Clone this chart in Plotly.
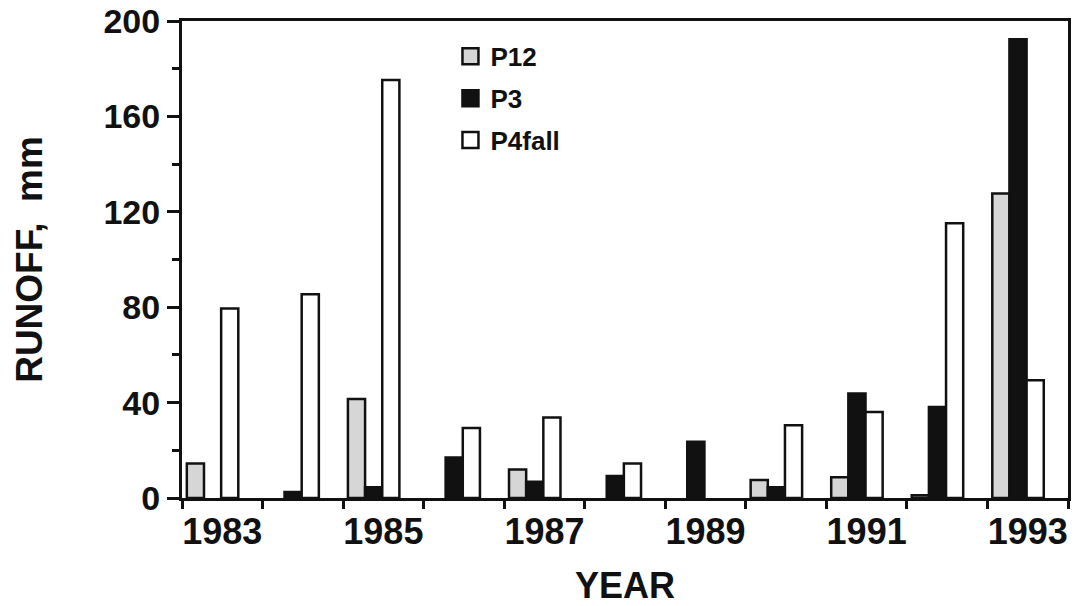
import plotly.graph_objects as go

years = [1983, 1984, 1985, 1986, 1987, 1988, 1989, 1990, 1991, 1992, 1993]
p12 = [14.5, None, 41.5, None, 12.0, None, None, 7.5, 8.7, 1.2, 127.7]
p3 = [None, 2.5, 4.5, 17.0, 6.8, 9.2, 23.6, 4.5, 43.8, 38.2, 192.3]
p4fall = [79.5, 85.4, 175.3, 29.4, 33.8, 14.5, None, 30.5, 36.1, 115.2, 49.4]
year_labels = ["1983", "1985", "1987", "1989", "1991", "1993"]
label_years = [1983, 1985, 1987, 1989, 1991, 1993]
y_ticks = [0, 40, 80, 120, 160, 200]

FONT = "Liberation Sans, Arial, Helvetica, sans-serif"
series = [
    ("P12", p12, "#d6d6d6", -0.44),
    ("P3", p3, "#111111", -0.227),
    ("P4fall", p4fall, "#ffffff", -0.014),
]
BW = 0.213

fig = go.Figure()
for name, vals, col, off in series:
    fig.add_trace(go.Bar(
        x=years, y=vals, name=name, offset=off, width=BW,
        marker=dict(color=col, line=dict(color="#111111", width=2.5)),
        showlegend=False, legendgroup=name,
    ))
for name, vals, col, off in series:
    fig.add_trace(go.Scatter(
        x=[None], y=[None], mode="markers", name=name, legendgroup=name,
        marker=dict(symbol="square", size=16, color=col,
                    line=dict(color="#111111", width=2.5)),
    ))

fig.update_layout(
    width=1080, height=606,
    margin=dict(l=182, r=12, t=21, b=108),
    paper_bgcolor="white", plot_bgcolor="white",
    barmode="overlay",
    font=dict(family=FONT, color="#111111", weight="bold"),
    legend=dict(
        x=0.303, y=0.975, xanchor="left", yanchor="top",
        font=dict(size=26, family=FONT, weight="bold"),
        bgcolor="rgba(0,0,0,0)", tracegroupgap=5,
    ),
    showlegend=True,
)
fig.update_xaxes(
    range=[1982.5, 1993.5], automargin=False,
    tickmode="array", tickvals=label_years, ticktext=year_labels,
    ticks="", tickfont=dict(size=36, family=FONT, weight="bold"),
    minor=dict(tickmode="linear", tick0=1982.5, dtick=1, ticks="outside",
               ticklen=8, tickwidth=2.5, tickcolor="#111111"),
    showline=True, linecolor="#111111", linewidth=3, mirror=True,
    showgrid=False, zeroline=False,
    title=dict(text="YEAR", font=dict(size=36, family=FONT, weight="bold"), standoff=22),
)
fig.update_yaxes(
    range=[0, 200], automargin=False,
    tickmode="array", tickvals=y_ticks,
    ticks="outside", ticklen=12, tickwidth=2.5, tickcolor="#111111",
    minor=dict(tickmode="linear", tick0=0, dtick=20, ticks="outside",
               ticklen=7, tickwidth=2.5, tickcolor="#111111"),
    tickfont=dict(size=34, family=FONT, weight="bold"),
    showline=True, linecolor="#111111", linewidth=3, mirror=True,
    showgrid=False, zeroline=False,
    title=dict(text="RUNOFF,  mm", font=dict(size=37, family=FONT, weight="bold"), standoff=50),
)

fig.write_html("out.html")
